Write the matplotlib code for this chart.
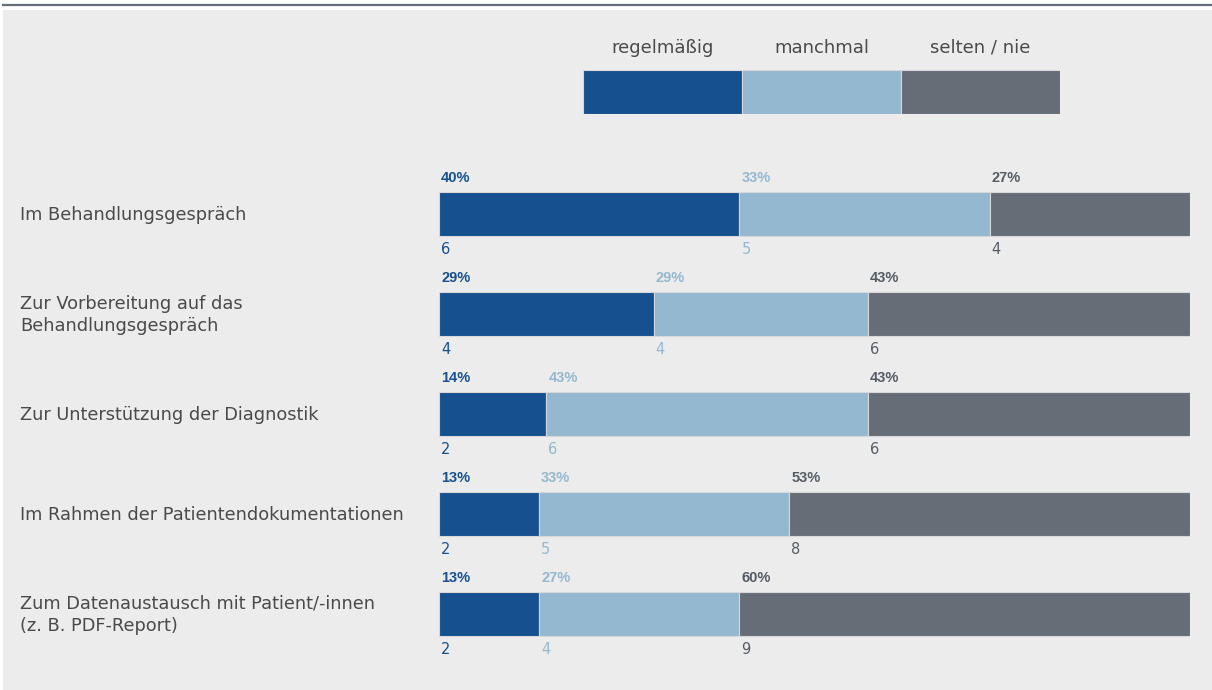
import matplotlib

matplotlib.use("Agg")
import matplotlib.pyplot as plt
from matplotlib.lines import Line2D
from matplotlib.patches import Rectangle

plt.rcParams["font.family"] = ["DejaVu Sans"]

# Survey answers: how often the tool is used, per context (absolute counts)
categories = [
    "Im Behandlungsgespräch",
    "Zur Vorbereitung auf das\nBehandlungsgespräch",
    "Zur Unterstützung der Diagnostik",
    "Im Rahmen der Patientendokumentationen",
    "Zum Datenaustausch mit Patient/-innen\n(z. B. PDF-Report)",
]
series = ["regelmäßig", "manchmal", "selten / nie"]
regelmaessig = [6, 4, 2, 2, 2]
manchmal = [5, 4, 6, 5, 4]
selten = [4, 6, 6, 8, 9]

colors = ["#16508e", "#93b8d0", "#666d77"]
text_colors = ["#16508e", "#93b8d0", "#555c66"]
label_color = "#4a4a4a"

W, H = 1212, 690
fig = plt.figure(figsize=(W / 100, H / 100), dpi=100)
fig.patch.set_facecolor("white")


def fig_box(x0, y0, x1, y1):
    # pixel box (top-left origin) -> figure fraction rect
    return [x0 / W, 1 - y1 / H, (x1 - x0) / W, (y1 - y0) / H]


# grey panel and the rule above it
fig.patches.append(Rectangle((3 / W, 0), 1, 1 - 10 / H, transform=fig.transFigure,
                             facecolor="#ececec", edgecolor="none", zorder=-5))
fig.lines.append(Line2D([3 / W, 1], [1 - 5 / H] * 2, transform=fig.transFigure,
                        color="#666d77", linewidth=1.6, zorder=-5))

# legend strip
lax = fig.add_axes(fig_box(583, 70, 1060, 114))
lax.set_xlim(0, 3)
lax.set_ylim(0, 1)
lax.axis("off")
for i, (name, c) in enumerate(zip(series, colors)):
    lax.barh(0.5, 1, left=i, height=1, color=c, edgecolor="#d8d8d8", linewidth=0.8)
    lax.text(i + 0.5, 1 + 22 / 44, name, ha="center", va="center",
             fontsize=13, color=label_color)

# stacked bars, scaled to 100 %
ax = fig.add_axes(fig_box(439, 164, 1190, 664))
ax.set_xlim(0, 1)
ax.set_ylim(len(categories) - 0.5, -0.5)
ax.axis("off")

counts = list(zip(regelmaessig, manchmal, selten))
bar_h = 0.44
for row, (cat, vals) in enumerate(zip(categories, counts)):
    total = sum(vals)
    left = 0.0
    for j, v in enumerate(vals):
        share = v / total
        ax.barh(row, share, left=left, height=bar_h, color=colors[j],
                edgecolor="#d8d8d8", linewidth=0.8)
        ax.annotate(f"{round(share * 100):.0f}%", (left, row - bar_h / 2),
                    xytext=(2, 14), textcoords="offset pixels",
                    ha="left", va="center", fontsize=10.5, fontweight="bold",
                    family="Liberation Sans", color=text_colors[j])
        ax.annotate(f"{v}", (left, row + bar_h / 2),
                    xytext=(2, -13), textcoords="offset pixels",
                    ha="left", va="center", fontsize=10.5, color=text_colors[j])
        left += share
    ax.annotate(cat, (0, row), xycoords=("figure pixels", "data"),
                xytext=(20, -1), textcoords="offset pixels",
                ha="left", va="center", fontsize=12.8, color=label_color,
                linespacing=1.3, annotation_clip=False)

fig.savefig("out.png", dpi=100)
